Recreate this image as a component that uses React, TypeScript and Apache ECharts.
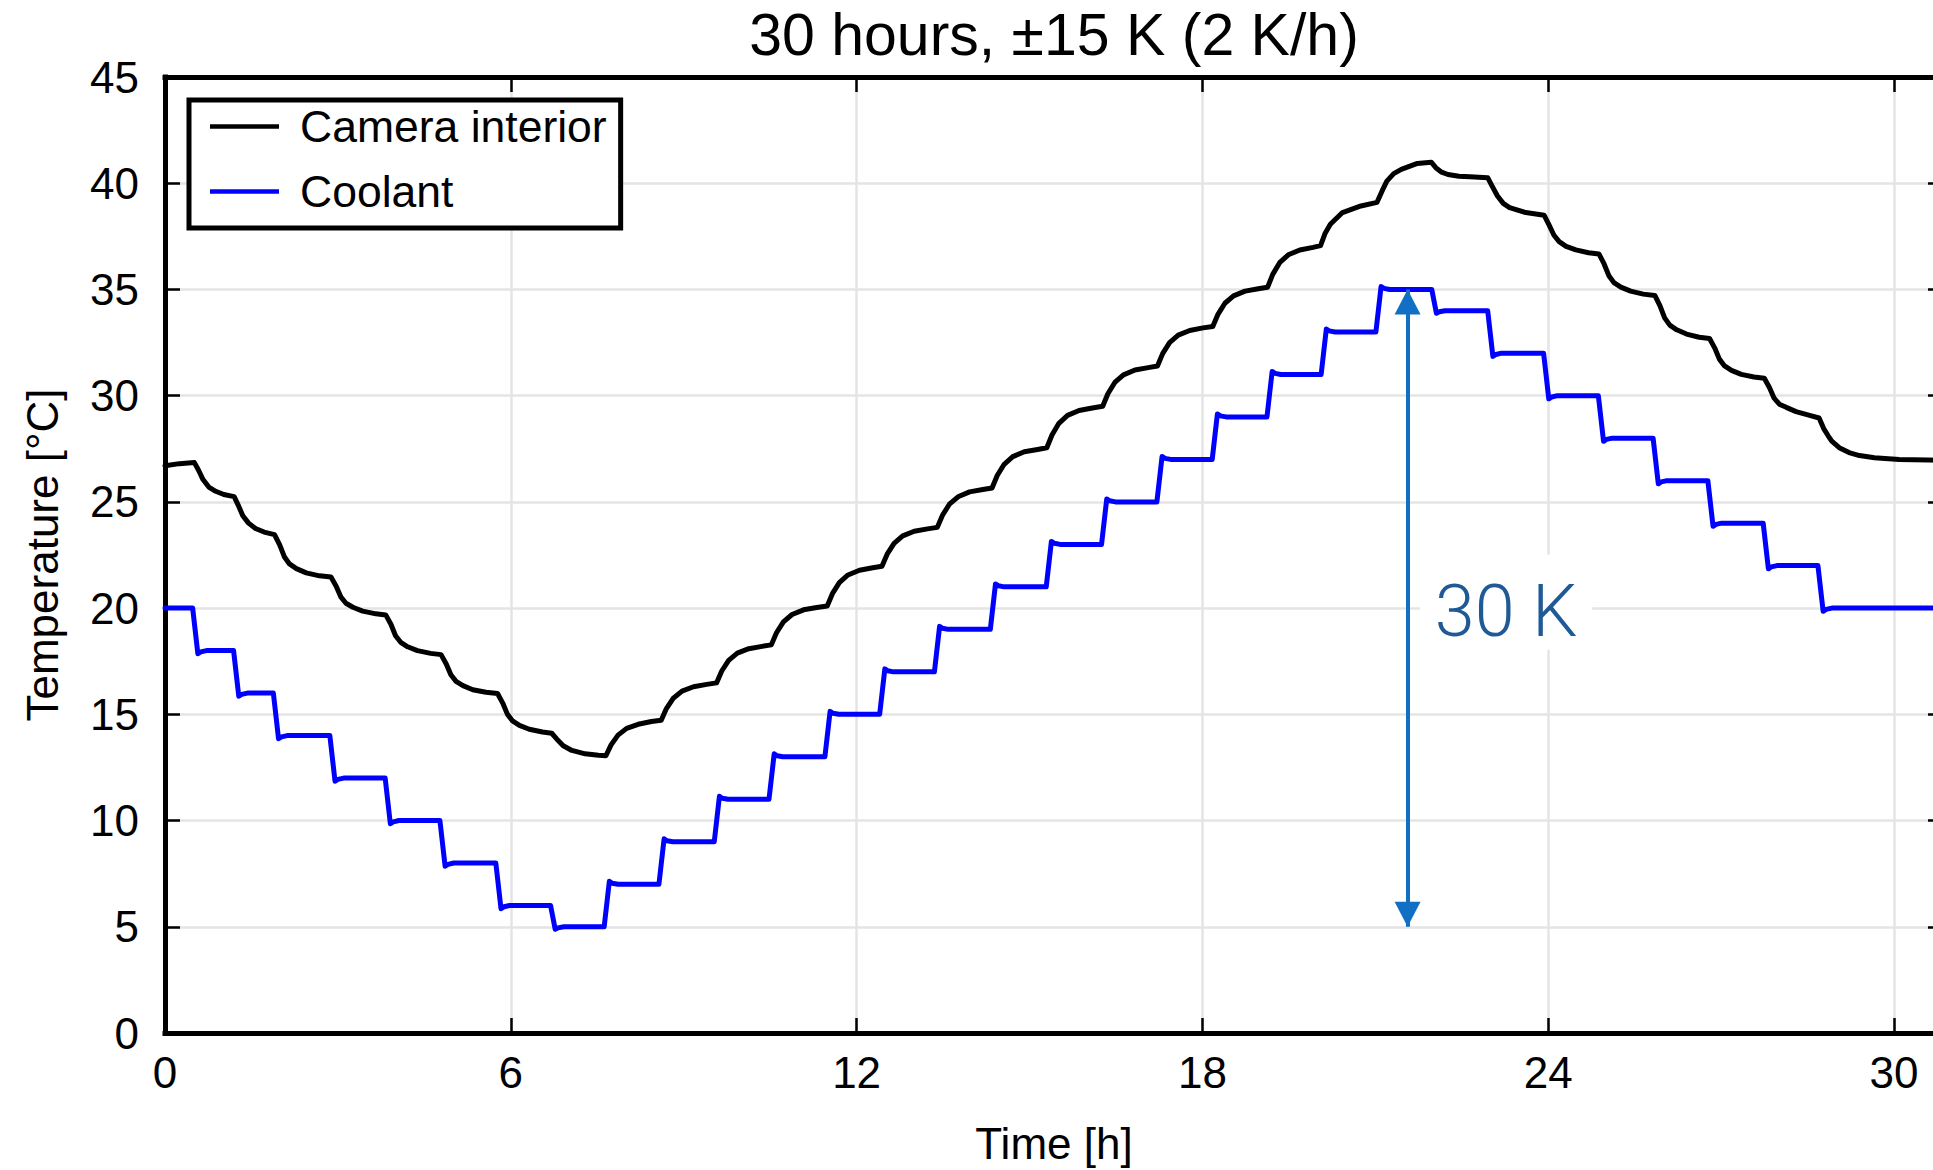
import React, { useEffect, useRef } from 'react';
import * as echarts from 'echarts';

const FONT = '"Liberation Sans", Arial, Helvetica, sans-serif';
const TITLE = '30 hours, ±15 K (2 K/h)';
const X_NAME = 'Time [h]';
const Y_NAME = 'Temperature [°C]';
const SERIES_NAMES = ['Camera interior', 'Coolant'];
const X_MIN = 0;
const X_MAX = 30.85;
const X_STEP = 6;
const Y_MIN = 0;
const Y_MAX = 45;
const Y_STEP = 5;

// annotation: double arrow showing the 30 K coolant swing
const ANNOT_TIME = 21.56;
const ANNOT_SPAN = [5, 35];
const ANNOT_LABEL = '30 K';
const ANNOT_LABEL_AT = [23.27, 20.28];

// [time h, temperature °C]
const interiorData: number[][] = [
  [0, 26.7], [0.25, 26.8], [0.51, 26.85],
  [0.58, 26.5], [0.66, 26.05], [0.76, 25.7], [0.88, 25.5], [1.02, 25.35], [1.2, 25.25],
  [1.27, 24.85], [1.35, 24.35], [1.45, 24.0], [1.57, 23.75], [1.72, 23.58], [1.9, 23.46],
  [1.99, 22.98], [2.07, 22.42], [2.16, 22.08], [2.28, 21.86], [2.45, 21.66], [2.68, 21.52], [2.88, 21.46],
  [2.97, 21.03], [3.05, 20.53], [3.14, 20.23], [3.26, 20.04], [3.43, 19.86], [3.66, 19.73], [3.83, 19.68],
  [3.92, 19.24], [4.0, 18.7], [4.09, 18.39], [4.21, 18.18], [4.38, 18.0], [4.61, 17.87], [4.79, 17.81],
  [4.88, 17.37], [4.96, 16.86], [5.05, 16.55], [5.17, 16.35], [5.34, 16.16], [5.57, 16.04], [5.77, 15.98],
  [5.86, 15.53], [5.94, 15.01], [6.03, 14.69], [6.15, 14.48], [6.32, 14.3], [6.55, 14.17], [6.71, 14.11],
  [6.8, 13.83], [6.91, 13.52], [7.06, 13.3], [7.29, 13.14], [7.52, 13.07], [7.65, 13.05],
  [7.74, 13.56], [7.86, 14.02], [8.01, 14.34], [8.21, 14.53], [8.44, 14.66], [8.61, 14.72],
  [8.7, 15.27], [8.82, 15.76], [8.97, 16.09], [9.17, 16.3], [9.4, 16.41], [9.57, 16.48],
  [9.66, 17.04], [9.78, 17.54], [9.93, 17.88], [10.13, 18.09], [10.36, 18.2], [10.52, 18.27],
  [10.61, 18.84], [10.73, 19.35], [10.88, 19.7], [11.08, 19.92], [11.31, 20.03], [11.49, 20.1],
  [11.58, 20.68], [11.7, 21.2], [11.85, 21.56], [12.05, 21.78], [12.28, 21.9], [12.44, 21.97],
  [12.53, 22.54], [12.65, 23.05], [12.8, 23.4], [13.0, 23.62], [13.23, 23.73], [13.4, 23.8],
  [13.49, 24.37], [13.61, 24.89], [13.76, 25.24], [13.96, 25.47], [14.19, 25.58], [14.35, 25.65],
  [14.44, 26.24], [14.56, 26.77], [14.71, 27.13], [14.91, 27.36], [15.14, 27.47], [15.3, 27.55],
  [15.39, 28.15], [15.51, 28.7], [15.66, 29.07], [15.86, 29.3], [16.09, 29.42], [16.27, 29.5],
  [16.36, 30.09], [16.48, 30.62], [16.63, 30.98], [16.83, 31.21], [17.06, 31.32], [17.22, 31.4],
  [17.31, 31.98], [17.43, 32.5], [17.58, 32.85], [17.78, 33.07], [18.01, 33.19], [18.18, 33.26],
  [18.27, 33.83], [18.39, 34.35], [18.54, 34.7], [18.74, 34.92], [18.97, 35.03], [19.13, 35.1],
  [19.22, 35.71], [19.34, 36.26], [19.49, 36.63], [19.69, 36.86], [19.92, 36.98], [20.05, 37.06],
  [20.13, 37.65], [20.22, 38.07], [20.43, 38.62], [20.75, 38.93], [21.03, 39.1],
  [21.12, 39.65], [21.2, 40.1], [21.32, 40.45], [21.45, 40.65], [21.73, 40.93], [21.97, 40.99],
  [22.05, 40.73], [22.15, 40.52], [22.26, 40.41], [22.45, 40.33], [22.64, 40.3], [22.95, 40.26],
  [23.02, 39.9], [23.12, 39.4], [23.22, 39.05], [23.33, 38.85], [23.61, 38.62], [23.93, 38.49],
  [24.01, 38.06], [24.1, 37.55], [24.19, 37.25], [24.31, 37.03], [24.48, 36.86], [24.7, 36.73], [24.88, 36.67],
  [24.97, 36.2], [25.05, 35.66], [25.14, 35.32], [25.26, 35.11], [25.43, 34.92], [25.65, 34.78], [25.85, 34.72],
  [25.94, 34.23], [26.02, 33.66], [26.11, 33.32], [26.23, 33.1], [26.4, 32.9], [26.62, 32.75], [26.8, 32.69],
  [26.89, 32.24], [26.97, 31.72], [27.06, 31.4], [27.18, 31.19], [27.35, 31.0], [27.57, 30.88], [27.75, 30.82],
  [27.84, 30.37], [27.92, 29.88], [28.01, 29.6], [28.13, 29.45], [28.3, 29.25], [28.52, 29.08], [28.7, 28.95],
  [28.78, 28.45], [28.86, 28.1], [28.92, 27.86], [29.05, 27.55], [29.22, 27.32], [29.4, 27.18],
  [29.66, 27.08], [30.09, 27.0], [30.85, 26.96],
];

const coolantData: number[][] = [
  [0, 20],
  [0.48, 20], [0.57, 17.85], [0.62, 17.94], [0.72, 18],
  [1.19, 18], [1.28, 15.85], [1.33, 15.94], [1.43, 16],
  [1.88, 16], [1.97, 13.85], [2.02, 13.94], [2.12, 14],
  [2.86, 14], [2.95, 11.85], [3.0, 11.94], [3.1, 12],
  [3.82, 12], [3.91, 9.85], [3.96, 9.94], [4.06, 10],
  [4.77, 10], [4.86, 7.85], [4.91, 7.94], [5.01, 8],
  [5.74, 8], [5.83, 5.85], [5.88, 5.94], [5.98, 6],
  [6.69, 6], [6.77, 4.88], [6.82, 4.95], [6.92, 5],
  [7.62, 5], [7.71, 7.14], [7.76, 7.05], [7.86, 7],
  [8.57, 7], [8.66, 9.14], [8.71, 9.05], [8.81, 9],
  [9.53, 9], [9.62, 11.14], [9.67, 11.05], [9.77, 11],
  [10.48, 11], [10.57, 13.14], [10.62, 13.05], [10.72, 13],
  [11.45, 13], [11.54, 15.14], [11.59, 15.05], [11.69, 15],
  [12.4, 15], [12.49, 17.14], [12.54, 17.05], [12.64, 17],
  [13.35, 17], [13.44, 19.14], [13.49, 19.05], [13.59, 19],
  [14.32, 19], [14.41, 21.14], [14.46, 21.05], [14.56, 21],
  [15.29, 21], [15.38, 23.14], [15.43, 23.05], [15.53, 23],
  [16.25, 23], [16.34, 25.14], [16.39, 25.05], [16.49, 25],
  [17.21, 25], [17.3, 27.14], [17.35, 27.05], [17.45, 27],
  [18.17, 27], [18.26, 29.14], [18.31, 29.05], [18.41, 29],
  [19.12, 29], [19.21, 31.14], [19.26, 31.05], [19.36, 31],
  [20.06, 31], [20.15, 33.14], [20.2, 33.05], [20.3, 33],
  [21.01, 33], [21.1, 35.14], [21.15, 35.05], [21.25, 35],
  [21.98, 35], [22.06, 33.88], [22.11, 33.95], [22.21, 34],
  [22.95, 34], [23.04, 31.85], [23.09, 31.94], [23.19, 32],
  [23.92, 32], [24.01, 29.85], [24.06, 29.94], [24.16, 30],
  [24.87, 30], [24.96, 27.85], [25.01, 27.94], [25.11, 28],
  [25.82, 28], [25.91, 25.85], [25.96, 25.94], [26.06, 26],
  [26.77, 26], [26.86, 23.85], [26.91, 23.94], [27.01, 24],
  [27.73, 24], [27.82, 21.85], [27.87, 21.94], [27.97, 22],
  [28.68, 22], [28.77, 19.85], [28.82, 19.94], [28.92, 20],
  [30.85, 20],
];

const BLACK = '#000000';
const BLUE = '#0000ff';
const ARROW_COLOR = '#1170c3';
const ANNOT_TEXT_COLOR = '#1f5a96';
const GRID_COLOR = '#e4e4e4';

const axisLine = { show: true, onZero: false, lineStyle: { color: BLACK, width: 5, cap: 'square' } };
const axisTick = { show: true, inside: true, length: 15, lineStyle: { color: BLACK, width: 2.5 } };
const splitLine = { show: true, lineStyle: { color: GRID_COLOR, width: 2.5 } };
const labelText = { fontFamily: FONT, fontSize: 44, color: BLACK };

function buildOption() {
  const xLabelFmt = (v: number) => (Math.abs(v % X_STEP) < 1e-9 ? String(v) : '');
  return {
    animation: false,
    backgroundColor: '#ffffff',
    title: {
      text: TITLE,
      left: 1054,
      top: 5,
      padding: 0,
      textAlign: 'center',
      textStyle: { fontFamily: FONT, fontSize: 59, fontWeight: 'normal', color: BLACK },
    },
    legend: {
      orient: 'vertical',
      left: 189,
      top: 100,
      data: SERIES_NAMES.map((n) => ({ name: n, icon: 'rect' })),
      itemWidth: 69,
      itemHeight: 4.5,
      itemGap: 20,
      padding: [4, 14, 14, 21],
      borderColor: BLACK,
      borderWidth: 5,
      backgroundColor: '#ffffff',
      selectedMode: false,
      textStyle: { ...labelText, fontSize: 44.5, padding: [0, 0, 0, 16] },
    },
    grid: { left: 165, top: 77, width: 1778, height: 962, containLabel: false },
    xAxis: [
      {
        type: 'value', min: X_MIN, max: X_MAX, interval: X_STEP, position: 'bottom',
        axisLine, axisTick, splitLine,
        axisLabel: { ...labelText, margin: 17, formatter: xLabelFmt, showMaxLabel: false },
        name: X_NAME, nameLocation: 'middle', nameGap: 88,
        nameTextStyle: { ...labelText },
      },
      {
        type: 'value', min: X_MIN, max: X_MAX, interval: X_STEP, position: 'top',
        axisLine, axisTick, splitLine: { show: false }, axisLabel: { show: false },
      },
    ],
    yAxis: [
      {
        type: 'value', min: Y_MIN, max: Y_MAX, interval: Y_STEP, position: 'left',
        axisLine, axisTick, splitLine,
        axisLabel: { ...labelText, margin: 26 },
        name: Y_NAME, nameLocation: 'middle', nameGap: 101,
        nameTextStyle: { ...labelText },
      },
      {
        type: 'value', min: Y_MIN, max: Y_MAX, interval: Y_STEP, position: 'right',
        axisLine, axisTick, splitLine: { show: false }, axisLabel: { show: false },
      },
    ],
    series: [
      {
        name: SERIES_NAMES[0], type: 'line', xAxisIndex: 0, yAxisIndex: 0,
        data: interiorData, showSymbol: false, symbol: 'none', silent: true,
        lineStyle: { color: BLACK, width: 5, join: 'round', cap: 'round' },
        itemStyle: { color: BLACK },
        z: 3,
      },
      {
        name: SERIES_NAMES[1], type: 'line', xAxisIndex: 0, yAxisIndex: 0,
        data: coolantData, showSymbol: false, symbol: 'none', silent: true,
        lineStyle: { color: BLUE, width: 5, join: 'round', cap: 'round' },
        itemStyle: { color: BLUE },
        z: 3,
        markLine: {
          silent: true,
          symbol: ['triangle', 'triangle'],
          symbolSize: [26, 25],
          symbolOffset: [[0, 12.5], [0, 12.5]],
          lineStyle: { color: ARROW_COLOR, width: 4, type: 'solid' },
          itemStyle: { color: ARROW_COLOR },
          label: { show: false },
          emphasis: { disabled: true },
          data: [[{ coord: [ANNOT_TIME, ANNOT_SPAN[0]] }, { coord: [ANNOT_TIME, ANNOT_SPAN[1]] }]],
        },
        markPoint: {
          silent: true,
          symbol: 'rect',
          symbolSize: [172, 95],
          itemStyle: { color: '#ffffff' },
          label: {
            show: true, position: 'inside', formatter: ANNOT_LABEL, offset: [0, 9],
            fontFamily: 'Roboto, "Liberation Sans", sans-serif', fontWeight: 300, fontSize: 72,
            color: ANNOT_TEXT_COLOR,
          },
          data: [{ coord: ANNOT_LABEL_AT }],
        },
      },
    ],
  };
}

export default function App() {
  const ref = useRef<HTMLDivElement>(null);
  useEffect(() => {
    const chart = echarts.init(ref.current as HTMLDivElement, null, { renderer: 'svg' });
    chart.setOption(buildOption() as any);
    return () => chart.dispose();
  }, []);
  return (
    <div
      ref={ref}
      style={{ position: 'fixed', left: 0, top: 0, width: 1960, height: 1170, background: '#fff' }}
    />
  );
}
